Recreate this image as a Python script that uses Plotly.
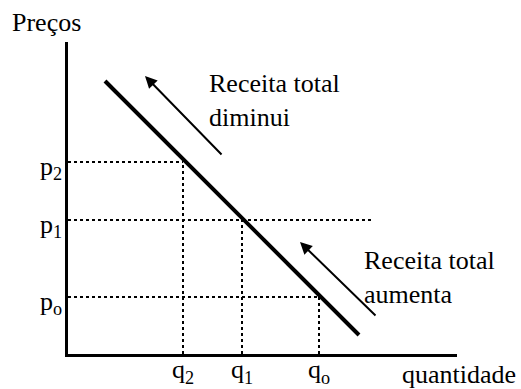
import plotly.graph_objects as go

# Demand curve end points (quantity, price)
demand_q = [37, 291]
demand_p = [273, 19]

# Price levels and their quantities on the demand curve
price_labels = ["p<sub>2</sub>", "p<sub>1</sub>", "p<sub>o</sub>"]
price_vals = [192, 134, 57]
qty_labels = ["q<sub>2</sub>", "q<sub>1</sub>", "q<sub>o</sub>"]
qty_vals = [115, 174, 251]
# how far each horizontal guide runs to the right
guide_ends = [115, 304, 251]

# Direction arrows (tail -> head)
upper_arrow = {"tail": (155, 198), "head": (77, 278)}
lower_arrow = {"tail": (309, 37), "head": (232, 112)}

FONT = "Liberation Serif"
FS = 26

fig = go.Figure()

# dotted guides from the axes to the curve
for p, q, qend in zip(price_vals, qty_vals, guide_ends):
    fig.add_trace(go.Scatter(x=[0, qend], y=[p, p], mode="lines",
                             line=dict(color="black", width=2, dash="dot"),
                             hoverinfo="skip"))
    fig.add_trace(go.Scatter(x=[q, q], y=[0, p], mode="lines",
                             line=dict(color="black", width=2, dash="dot"),
                             hoverinfo="skip"))

# demand curve
fig.add_trace(go.Scatter(x=demand_q, y=demand_p, mode="lines",
                         line=dict(color="black", width=4),
                         hoverinfo="skip"))

# price labels beside the vertical axis
for lab, p in zip(price_labels, price_vals):
    fig.add_annotation(x=0, y=p, xref="x", yref="y", text=lab,
                       showarrow=False, xanchor="right", yanchor="middle",
                       xshift=-4, yshift=-6,
                       font=dict(family=FONT, size=FS, color="black"))

for arr in (upper_arrow, lower_arrow):
    fig.add_annotation(x=arr["head"][0], y=arr["head"][1],
                       ax=arr["tail"][0], ay=arr["tail"][1],
                       xref="x", yref="y", axref="x", ayref="y",
                       text="", showarrow=True, arrowhead=2,
                       arrowsize=1.2, arrowwidth=2, arrowcolor="black")

fig.add_annotation(x=139, y=254, xref="x", yref="y",
                   text="Receita total<br>diminui", showarrow=False,
                   xanchor="left", yanchor="middle", align="left",
                   font=dict(family=FONT, size=FS, color="black"))
fig.add_annotation(x=294, y=77, xref="x", yref="y",
                   text="Receita total<br>aumenta", showarrow=False,
                   xanchor="left", yanchor="middle", align="left",
                   font=dict(family=FONT, size=FS, color="black"))
fig.add_annotation(x=-0.054, y=1.061, xref="paper", yref="paper",
                   text="Preços", showarrow=False,
                   xanchor="center", yanchor="middle",
                   font=dict(family=FONT, size=FS, color="black"))
fig.add_annotation(x=1.005, y=-0.066, xref="paper", yref="paper",
                   text="quantidade", showarrow=False,
                   xanchor="center", yanchor="middle",
                   font=dict(family=FONT, size=FS, color="black"))

fig.update_layout(
    width=521, height=389,
    margin=dict(l=68, r=64, t=42, b=35),
    paper_bgcolor="white", plot_bgcolor="white",
    showlegend=False,
    xaxis=dict(range=[0, 389], showgrid=False, zeroline=False,
               showline=True, linecolor="black", linewidth=3,
               tickvals=qty_vals, ticktext=qty_labels, ticks="",
               automargin=False, ticklabelstandoff=-10,
               tickfont=dict(family=FONT, size=FS, color="black")),
    yaxis=dict(range=[0, 312], showgrid=False, zeroline=False,
               showline=True, linecolor="black", linewidth=3,
               showticklabels=False, ticks="", automargin=False),
)

fig.write_html("out.html")
